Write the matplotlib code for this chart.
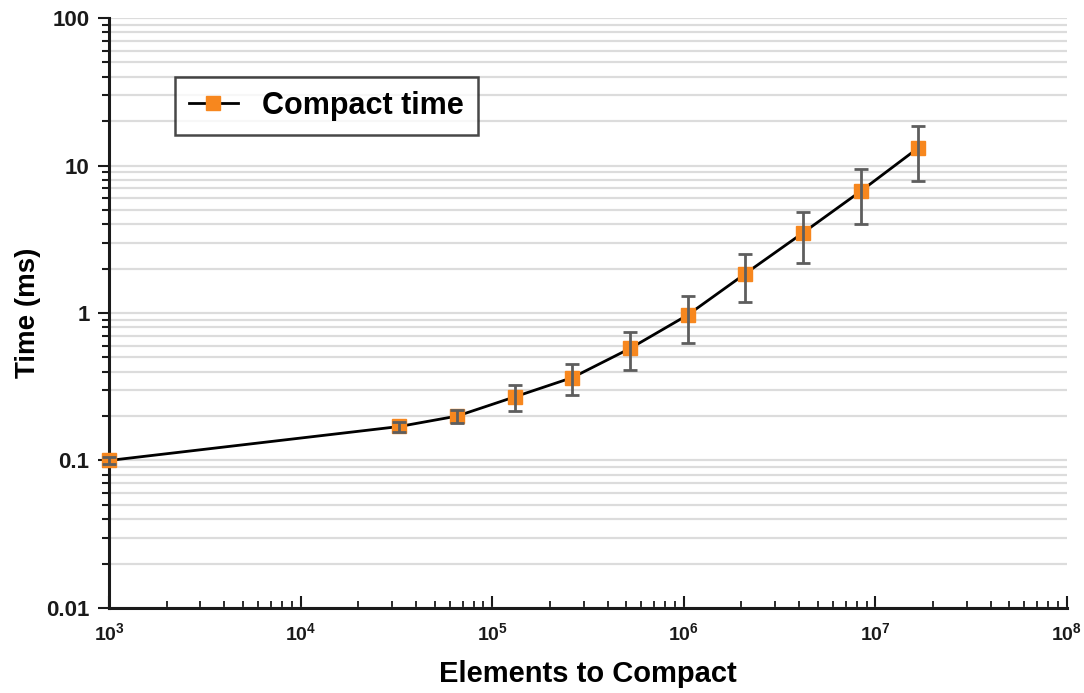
import numpy as np
import matplotlib
matplotlib.use('Agg')
import matplotlib.pyplot as plt
from matplotlib.lines import Line2D
from matplotlib.ticker import LogLocator, FixedLocator, FixedFormatter, NullFormatter

plt.rcParams['font.family'] = ['Liberation Sans', 'DejaVu Sans']
plt.rcParams['mathtext.default'] = 'regular'

# elements to compact (powers of two after the first point)
elements = [1000, 32768, 65536, 131072, 262144, 524288, 1048576,
            2097152, 4194304, 8388608, 16777216]
# mean compact time in ms
time_ms = [0.1, 0.17, 0.2, 0.27, 0.365, 0.575, 0.97, 1.85, 3.5, 6.7, 13.2]
# error (std) in ms
time_err = [0.005, 0.013, 0.02, 0.053, 0.085, 0.165, 0.34, 0.66, 1.33, 2.7, 5.3]

y_ticks = [0.01, 0.1, 1, 10, 100]
y_labels = ['0.01', '0.1', '1', '10', '100']

orange = '#f7871e'

fig = plt.figure(figsize=(10.84, 6.93), dpi=100)
ax = fig.add_axes([0.1006, 0.1227, 0.8837, 0.8513])

ax.plot(elements, time_ms, color='black', lw=2, marker='s', ms=10,
        mfc=orange, mec=orange, zorder=3, clip_on=False)
ax.errorbar(elements, time_ms, yerr=time_err, fmt='none',
            ecolor='#5e5e5e', elinewidth=2, capsize=5, capthick=2,
            zorder=4, clip_on=False)

ax.set_xscale('log')
ax.set_yscale('log')
ax.set_xlim(1e3, 1e8)
ax.set_ylim(0.01, 100)

# horizontal grid, major + minor
ax.yaxis.set_minor_locator(LogLocator(base=10, subs=np.arange(2, 10)))
ax.yaxis.set_minor_formatter(NullFormatter())
ax.grid(True, axis='y', which='both', color='#dcdcdc', lw=1.6, zorder=0)
ax.set_axisbelow(True)

ax.yaxis.set_major_locator(FixedLocator(y_ticks))
ax.yaxis.set_major_formatter(FixedFormatter(y_labels))
ax.xaxis.set_major_locator(LogLocator(base=10))
ax.xaxis.set_minor_locator(LogLocator(base=10, subs=np.arange(2, 10)))
ax.xaxis.set_minor_formatter(NullFormatter())

for s in ['top', 'right']:
    ax.spines[s].set_visible(False)
for s in ['left', 'bottom']:
    ax.spines[s].set_linewidth(2.2)
    ax.spines[s].set_color('#1a1a1a')

ax.tick_params(axis='y', which='major', direction='out', length=8, width=1.5,
               labelsize=16, pad=6, colors='#1a1a1a')
ax.tick_params(axis='y', which='minor', direction='out', length=5, width=1.5,
               colors='#1a1a1a')
ax.tick_params(axis='x', which='major', direction='in', length=9, width=1.5,
               labelsize=14, pad=10, colors='#1a1a1a')
ax.tick_params(axis='x', which='minor', direction='in', length=5, width=1.3,
               colors='#1a1a1a')
fig.canvas.draw()
for lab in ax.get_yticklabels() + ax.get_xticklabels():
    lab.set_fontweight('bold')

ax.set_ylabel('Time (ms)', fontsize=20, fontweight='bold', labelpad=4)
ax.set_xlabel('Elements to Compact', fontsize=21, fontweight='bold', labelpad=12)

handle = Line2D([], [], color='black', lw=2, marker='s', ms=10,
                mfc=orange, mec=orange)
leg = ax.legend([handle], ['Compact time'], loc='upper left',
                bbox_to_anchor=(0.069, 0.9), borderaxespad=0,
                prop={'weight': 'bold', 'size': 22}, frameon=True, fancybox=False,
                edgecolor='#1a1a1a', borderpad=0.45, handlelength=1.6,
                handletextpad=0.8)
leg.get_frame().set_linewidth(1.8)

fig.savefig('out.png', dpi=100, facecolor='white')
